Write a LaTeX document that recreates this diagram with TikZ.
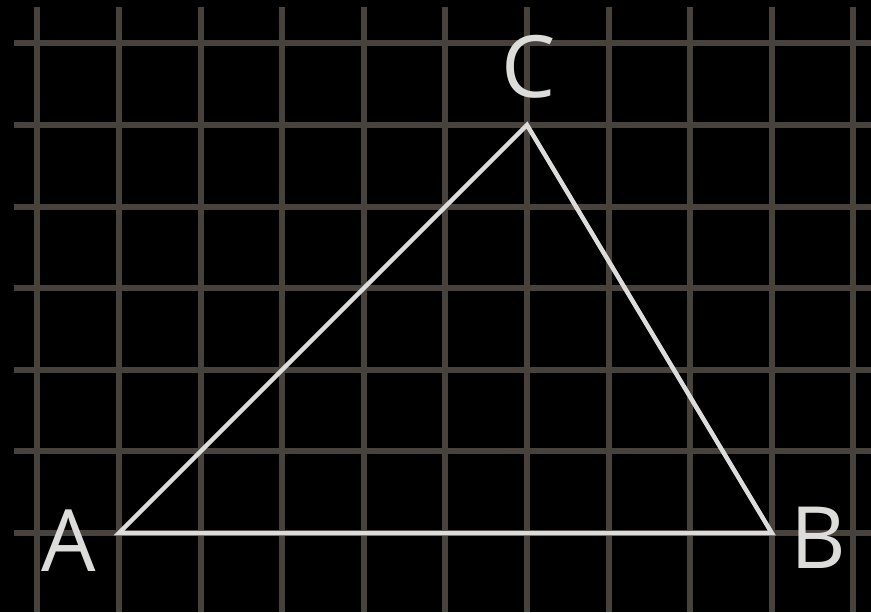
\documentclass[tikz,border=0pt]{standalone}
\usepackage{fontspec}
\setmainfont{Open Sans}
\usepackage{tikz}
\usetikzlibrary{positioning}
\definecolor{gridbrown}{HTML}{48423C}
\definecolor{chalk}{HTML}{DCDCDA}

\begin{document}
\begin{tikzpicture}[x=81.6pt, y=81.6pt,
    gridline/.style={draw=gridbrown, line width=6pt},
    side/.style={draw=chalk, line width=4.5pt, line join=miter},
    vertex/.style={text=chalk, inner sep=0pt, font=\fontsize{86}{86}\selectfont}]
    \fill[black] (-1.458,-0.968) rectangle (9.216,6.532);
    \useasboundingbox (-1.458,-0.968) rectangle (9.216,6.532);
    % grid
    \foreach \i in {-1,...,9}
        \draw[gridline] (\i,-0.968) -- (\i,6.446);
    \foreach \j in {0,...,6}
        \draw[gridline] (-1.287,\j) -- (9.216,\j);
    % triangle
    \coordinate (A) at (0,0);
    \coordinate (B) at (8,0);
    \coordinate (C) at (5,5);
    \draw[side] (A) -- (B) -- (C) -- cycle;
    \node[vertex] (labA) at (-0.613,-0.098) {A};
    \node[vertex] (labB) at (8.566,-0.06) {B};
    \node[vertex] (labC) at (5.025,5.71) {C};
\end{tikzpicture}
\end{document}
